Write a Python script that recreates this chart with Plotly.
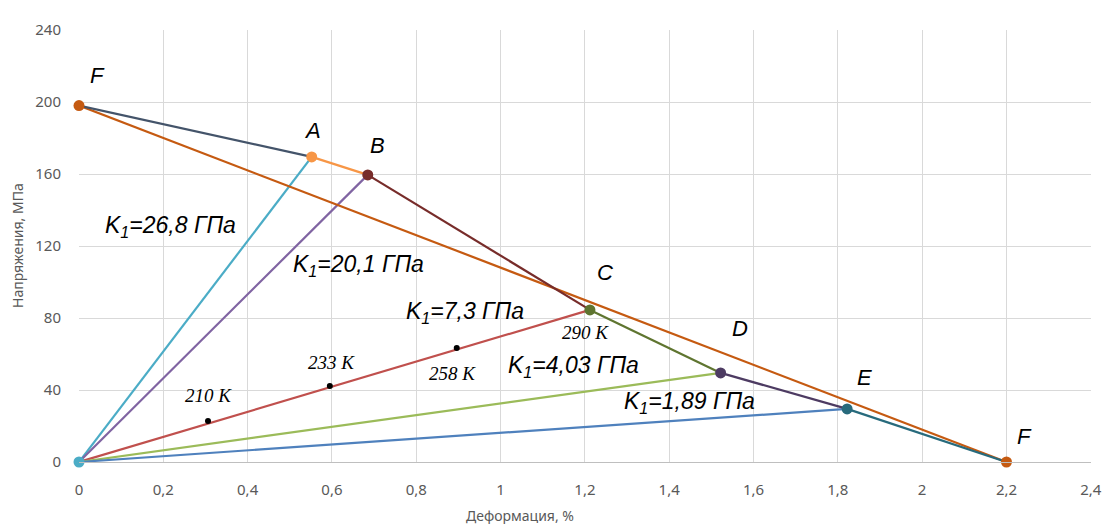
import plotly.graph_objects as go

# Key points (strain %, stress MPa)
pt_names = ["F0", "A", "B", "C", "D", "E", "F"]
pt_x = [0.0, 0.552, 0.685, 1.212, 1.522, 1.822, 2.2]
pt_y = [198.0, 169.5, 159.5, 84.5, 49.5, 29.5, 0.0]
pt_colors = ["#C55A11", "#F79646", "#772C2A", "#5F7530", "#4D3B62", "#276A7C", "#C55A11"]

# Envelope segment colors (F0-A, A-B, B-C, C-D, D-E, E-F)
seg_colors = ["#44546A", "#F79646", "#772C2A", "#5F7530", "#4D3B62", "#276A7C"]
fline_color = "#C55A11"

# Loading rays from origin to A..E
ray_colors = ["#4BACC6", "#8064A2", "#C0504D", "#9BBB59", "#4F81BD"]
ray_labels = ["K<sub>1</sub>=26,8 ГПа", "K<sub>1</sub>=20,1 ГПа", "K<sub>1</sub>=7,3 ГПа",
              "K<sub>1</sub>=4,03 ГПа", "K<sub>1</sub>=1,89 ГПа"]
ray_label_x = [0.216, 0.662, 0.915, 1.174, 1.449]
ray_label_y = [131, 109, 83, 53, 33]

# Temperature points on C ray
temp_x = [0.306, 0.595, 0.896]
temp_y = [22.8, 42.2, 63.3]
temp_labels = ["210 K", "233 K", "258 K", "290 K"]
temp_label_x = [0.306, 0.598, 0.887, 1.202]
temp_label_y = [36.7, 55.5, 49, 71.7]

letter_labels = ["F", "A", "B", "C", "D", "E", "F"]
letter_x = [0.043, 0.555, 0.707, 1.247, 1.567, 1.864, 2.243]
letter_y = [215, 184.4, 176, 105.5, 74, 47, 14]

x_ticks = [0, 0.2, 0.4, 0.6, 0.8, 1.0, 1.2, 1.4, 1.6, 1.8, 2.0, 2.2, 2.4]
y_ticks = [0, 40, 80, 120, 160, 200, 240]

fig = go.Figure()

for i in range(5):
    fig.add_trace(go.Scatter(x=[0, pt_x[i + 1]], y=[0, pt_y[i + 1]], mode="lines",
                             line=dict(color=ray_colors[i], width=2.2), showlegend=False,
                             cliponaxis=False))

fig.add_trace(go.Scatter(x=[pt_x[0], pt_x[6]], y=[pt_y[0], pt_y[6]], mode="lines",
                         line=dict(color=fline_color, width=2.2), showlegend=False, cliponaxis=False))

for i in range(6):
    fig.add_trace(go.Scatter(x=[pt_x[i], pt_x[i + 1]], y=[pt_y[i], pt_y[i + 1]], mode="lines",
                             line=dict(color=seg_colors[i], width=2.2), showlegend=False,
                             cliponaxis=False))

fig.add_trace(go.Scatter(x=pt_x, y=pt_y, mode="markers",
                         marker=dict(color=pt_colors, size=11), showlegend=False, cliponaxis=False))
fig.add_trace(go.Scatter(x=[0], y=[0], mode="markers",
                         marker=dict(color="#4BACC6", size=11), showlegend=False, cliponaxis=False))
fig.add_trace(go.Scatter(x=temp_x, y=temp_y, mode="markers",
                         marker=dict(color="black", size=6), showlegend=False, cliponaxis=False))

for t, x, y in zip(ray_labels, ray_label_x, ray_label_y):
    fig.add_annotation(x=x, y=y, text="<i>" + t + "</i>", showarrow=False,
                       font=dict(family="Liberation Sans", size=23, color="black"))
for t, x, y in zip(temp_labels, temp_label_x, temp_label_y):
    fig.add_annotation(x=x, y=y, text="<i>" + t + "</i>", showarrow=False,
                       font=dict(family="Liberation Serif", size=19, color="black"))
for t, x, y in zip(letter_labels, letter_x, letter_y):
    fig.add_annotation(x=x, y=y, text="<i>" + t + "</i>", showarrow=False,
                       font=dict(family="Liberation Sans", size=22, color="black"))

# axis titles
fig.add_annotation(xref="paper", yref="paper", x=(520 - 79) / 1012, y=-(515 - 462) / 432,
                   xanchor="center", yanchor="middle",
                   text="Деформация, %", showarrow=False,
                   font=dict(family="Noto Sans", size=14, color="#595959"))
fig.add_annotation(xref="paper", yref="paper", x=-(79 - 17) / 1012, y=0.5,
                   xanchor="center", yanchor="middle",
                   text="Напряжения, МПа", showarrow=False, textangle=-90,
                   font=dict(family="Noto Sans", size=14, color="#595959"))

fig.update_layout(
    width=1102, height=524,
    margin=dict(l=79, r=11, t=30, b=62),
    paper_bgcolor="white", plot_bgcolor="white",
    separators=", ",
    font=dict(family="Noto Sans", color="#595959"),
    xaxis=dict(range=[0, 2.4005], tickvals=x_ticks, showgrid=True, gridcolor="#D9D9D9",
               gridwidth=1, zeroline=False, showline=True, linecolor="#BFBFBF",
               tickfont=dict(size=15, color="#595959"), ticks="outside", ticklen=14,
               tickcolor="rgba(0,0,0,0)", automargin=False),
    yaxis=dict(range=[0, 240], tickvals=y_ticks, showgrid=True, gridcolor="#D9D9D9",
               gridwidth=1, zeroline=False, showline=False,
               tickfont=dict(size=15, color="#595959"), ticks="outside", ticklen=14,
               tickcolor="rgba(0,0,0,0)", automargin=False),
)

fig.write_html(
    "out.html",
    config={"displayModeBar": False},
    post_script="document.documentElement.style.margin='0';document.body.style.margin='0';"
                "document.body.style.overflow='hidden';",
)
